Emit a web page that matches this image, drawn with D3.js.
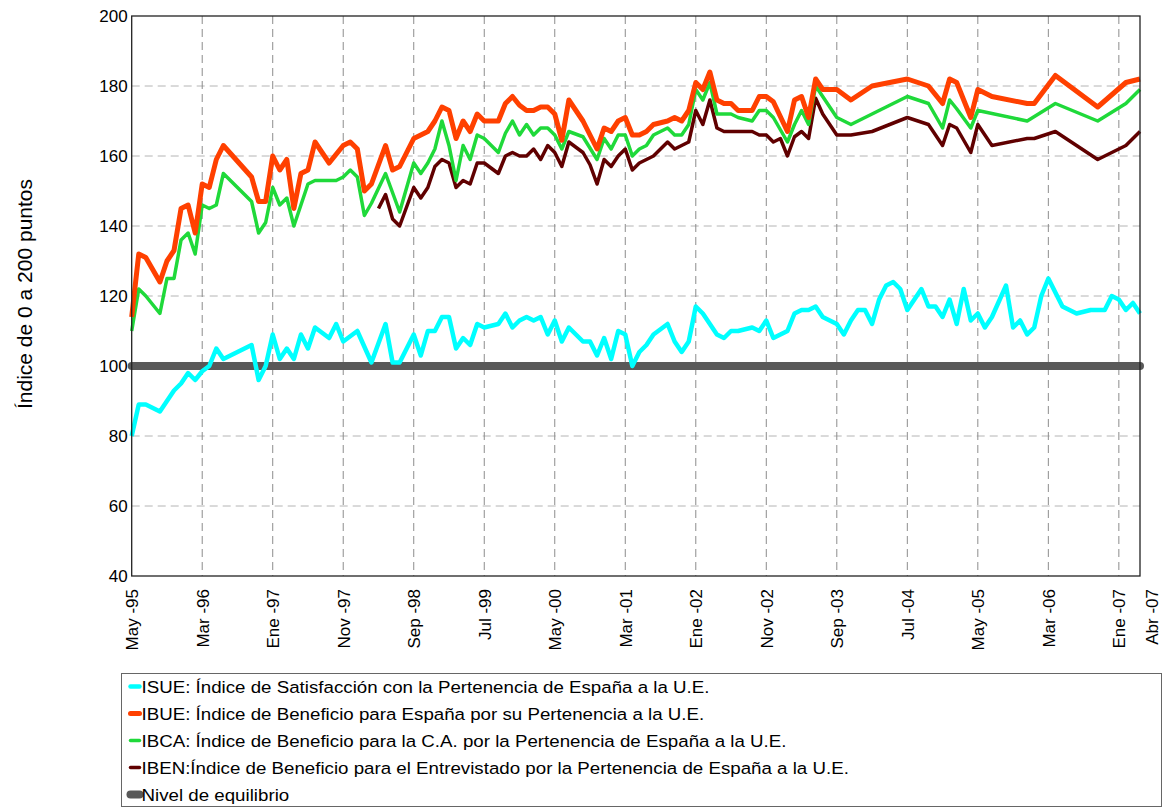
<!DOCTYPE html>
<html>
<head>
<meta charset="utf-8">
<script src="https://cdnjs.cloudflare.com/ajax/libs/d3/7.8.5/d3.min.js"></script>
<style>
  body { margin: 0; background: #fff; }
  text { font-family: Arial, "Liberation Sans", sans-serif; fill: #000; }
</style>
</head>
<body>
<div id="chart-container"></div>
<script>
// survey months (no survey in August), one column per series
const months = [
  "1995-05","1995-06","1995-07","1995-09","1995-10","1995-11","1995-12",
  "1996-01","1996-02","1996-03","1996-04","1996-05","1996-06","1996-10","1996-11","1996-12",
  "1997-01","1997-02","1997-03","1997-04","1997-05","1997-06","1997-07","1997-09","1997-10","1997-11","1997-12",
  "1998-01","1998-02","1998-03","1998-04","1998-05","1998-06","1998-07","1998-09","1998-10","1998-11","1998-12",
  "1999-01","1999-02","1999-03","1999-04","1999-05","1999-06","1999-07","1999-09","1999-10","1999-11","1999-12",
  "2000-01","2000-02","2000-03","2000-04","2000-05","2000-06","2000-07","2000-09","2000-10","2000-11","2000-12",
  "2001-01","2001-02","2001-03","2001-04","2001-05","2001-06","2001-07","2001-09","2001-10","2001-11","2001-12",
  "2002-01","2002-02","2002-03","2002-04","2002-05","2002-06","2002-07","2002-09","2002-10","2002-11","2002-12",
  "2003-01","2003-02","2003-03","2003-04","2003-05","2003-06","2003-07","2003-09","2003-10","2003-11","2003-12",
  "2004-01","2004-02","2004-03","2004-04","2004-05","2004-06","2004-07","2004-09","2004-10","2004-11","2004-12",
  "2005-01","2005-02","2005-03","2005-04","2005-05","2005-06","2005-07","2005-09","2005-10","2005-11","2005-12",
  "2006-01","2006-02","2006-03","2006-04","2006-05","2006-07","2006-09","2006-10","2006-11","2006-12",
  "2007-01","2007-02","2007-03","2007-04"
];

const isue = [
  80,89,89,87,null,93,95,
  98,96,98.5,100,105,102,106,96,100,
  109,102,105,102,109,105,111,108,112,107,null,
  110,null,101,null,112,101,101,109,103,110,110,
  114,114,105,108,106,112,111,112,115,111,113,
  114,113,114,109,113,107,111,107,107,103,108,
  102,110,109,100,104,106,109,112,107,104,107,
  117,115,null,109,108,110,110,111,110,113,108,
  null,110,115,116,116,117,114,112,109,113,116,
  116,112,119,123,124,122,116,122,117,117,114,
  119,112,122,113,115,111,114,123,111,113,109,
  111,120,125,null,117,115,116,null,116,120,
  119,116,118,115
];

const ibue = [
  114,132,131,124,130,133,145,
  146,138,152,151,159,163,154,147,147,
  160,156,159,145,155,156,164,158,null,163,164,
  162,150,152,null,163,156,157,165,166,167,170,
  174,173,165,170,167,172,170,170,175,177,174.5,
  173,173,174,174,172,164.5,176,170,null,162,168,
  167,170,171,166,166,167,169,170,171,170,173,
  181,179,184,176,175,175,173,173,177,177,175.5,
  null,167,176,177,171,182,179,179,null,176,null,
  null,180,null,null,null,null,182,null,180,null,175,
  182,181,null,171,179,null,177,null,null,null,175,
  175,null,null,183,null,null,null,174,null,null,
  null,181,null,182
];

const ibca = [
  110,122,120,115,125,125,136,
  138,132,146,145,146,155,147,138,141,
  151,146,148,140,146,152,153,null,153,154,156,
  154,143,146.5,null,155,null,144,158,155,158,162,
  170,163,153,163,159,166,165,161,166.5,170,166,
  169,166,168,168,166,162,167,165.5,null,159,165,
  162,166,166,160,162,163,166,168,166,166,169,
  179,176,181,172,172,172,171,170,173,173,171,
  null,164,169,173,169,180,177,171,null,169,null,
  null,172,null,null,null,null,177,null,175,null,168,
  176,173.5,null,168,173,null,null,null,null,null,170,
  null,null,null,175,null,null,null,170,null,null,
  null,175,null,179
];

const iben = [
  null,null,null,null,null,null,null,
  null,null,null,null,null,null,null,null,null,
  null,null,null,null,null,null,null,null,null,null,null,
  null,null,null,145,149,142,140,151,148,151,157,
  159,158,151,153,152,158,158,155,160,161,160,
  160,162,159,163,161,157,164,161,157.5,152,159,
  157,160,162,156,158,null,160,164,162,null,164,
  173,169,176,168,167,null,null,167,166,166,164,
  165,160,165.5,167,165,176.5,172,166,null,166,null,
  null,167,null,null,null,null,171,null,169,null,163,
  169,168,null,161,169,null,163,null,null,null,165,
  165,null,null,167,null,null,null,159,null,null,
  null,163,null,167
];

const equilibrio = 100;

const tickMonths = [
  "1995-05","1996-03","1997-01","1997-11","1998-09","1999-07","2000-05","2001-03",
  "2002-01","2002-11","2003-09","2004-07","2005-05","2006-03","2007-01","2007-04"
];
const tickLabels = [
  "May -95","Mar -96","Ene -97","Nov -97","Sep -98","Jul -99","May -00","Mar -01",
  "Ene -02","Nov -02","Sep -03","Jul -04","May -05","Mar -06","Ene -07","Abr -07"
];
const yTicks = [40, 60, 80, 100, 120, 140, 160, 180, 200];

const legendLabels = [
  "ISUE: Índice de Satisfacción con la Pertenencia de España a la U.E.",
  "IBUE: Índice de Beneficio para España por su Pertenencia a la U.E.",
  "IBCA: Índice de Beneficio para la C.A. por la Pertenencia de España a la U.E.",
  "IBEN:Índice de Beneficio para el Entrevistado por la Pertenencia de España a la U.E.",
  "Nivel de equilibrio"
];

const monthIndex = (s) => {
  const [yy, mm] = s.split("-").map(Number);
  return yy * 12 + (mm - 1);
};

const width = 1163;
const height = 808;
const plot = { left: 131.7, right: 1140, top: 16, bottom: 576 };

const x = d3.scaleLinear(
  [monthIndex(months[0]), monthIndex(months[months.length - 1])],
  [plot.left, plot.right]
);
const y = d3.scaleLinear([40, 200], [plot.bottom, plot.top]);

const svg = d3
  .select("#chart-container")
  .append("svg")
  .attr("width", width)
  .attr("height", height);

// grid
svg
  .append("g")
  .selectAll("line")
  .data(yTicks.slice(1, -1))
  .join("line")
  .attr("x1", plot.left)
  .attr("x2", plot.right)
  .attr("y1", (d) => y(d))
  .attr("y2", (d) => y(d))
  .attr("stroke", "#b4b4b4")
  .attr("stroke-width", 1)
  .attr("stroke-dasharray", "8,5");

svg
  .append("g")
  .selectAll("line")
  .data(tickMonths.slice(1, -1))
  .join("line")
  .attr("x1", (d) => x(monthIndex(d)))
  .attr("x2", (d) => x(monthIndex(d)))
  .attr("y1", plot.top)
  .attr("y2", plot.bottom)
  .attr("stroke", "#8c8c8c")
  .attr("stroke-width", 1)
  .attr("stroke-dasharray", "8,5");

// axes
svg
  .append("g")
  .attr("transform", `translate(${plot.left},0)`)
  .call(d3.axisLeft(y).tickValues(yTicks).tickSize(0).tickPadding(4))
  .call((g) => g.select(".domain").remove())
  .call((g) => g.selectAll("text").style("font-size", "17px").attr("fill", "#000"));

svg
  .append("g")
  .attr("transform", `translate(0,${plot.bottom})`)
  .call(
    d3
      .axisBottom(x)
      .tickValues(tickMonths.map(monthIndex))
      .tickFormat((d, i) => tickLabels[i])
      .tickSize(0)
  )
  .call((g) => g.select(".domain").remove())
  .call((g) =>
    g
      .selectAll("text")
      .style("font-size", "17px")
      .attr("fill", "#000")
      .attr("text-anchor", "end")
      .attr("transform", "rotate(-90)")
      .attr("x", -13)
      .attr("y", 0)
      .attr("dy", (d, i) => (i === tickLabels.length - 1 ? "1em" : "0.35em"))
  );

svg
  .append("text")
  .attr("transform", `translate(32,${(plot.top + plot.bottom) / 2 - 2}) rotate(-90)`)
  .attr("text-anchor", "middle")
  .style("font-size", "21px")
  .text("Índice de 0 a 200 puntos");

// lines
const line = d3
  .line()
  .x((d) => x(d.m))
  .y((d) => y(d.v));

const pointsOf = (values) =>
  months
    .map((m, i) => ({ m: monthIndex(m), v: values[i] }))
    .filter((d) => d.v !== null);

svg
  .append("path")
  .attr("fill", "none")
  .attr("stroke", "#595959")
  .attr("stroke-width", 8)
  .attr("stroke-linecap", "round")
  .attr("d", line(months.map((m) => ({ m: monthIndex(m), v: equilibrio }))));

const series = [
  { values: iben, color: "#600000", width: 3.5 },
  { values: ibca, color: "#1fd93a", width: 3.5 },
  { values: ibue, color: "#ff4000", width: 5 },
  { values: isue, color: "#00ffff", width: 4.5 }
];

series.forEach((s) => {
  svg
    .append("path")
    .attr("fill", "none")
    .attr("stroke", s.color)
    .attr("stroke-width", s.width)
    .attr("stroke-linejoin", "round")
    .attr("d", line(pointsOf(s.values)));
});

// plot frame
svg
  .append("rect")
  .attr("x", plot.left)
  .attr("y", plot.top)
  .attr("width", plot.right - plot.left)
  .attr("height", plot.bottom - plot.top)
  .attr("fill", "none")
  .attr("stroke", "#222")
  .attr("stroke-width", 1.3);

// legend
const legendItems = [
  { color: "#00ffff", width: 4.5 },
  { color: "#ff4000", width: 5 },
  { color: "#1fd93a", width: 3.5 },
  { color: "#600000", width: 3.5 },
  { color: "#595959", width: 8 }
];

const legend = svg.append("g").attr("transform", "translate(121.5,673.5)");

legend
  .append("rect")
  .attr("width", 1040)
  .attr("height", 133)
  .attr("fill", "#fff")
  .attr("stroke", "#666")
  .attr("stroke-width", 1);

legendItems.forEach((item, i) => {
  const row = legend.append("g").attr("transform", `translate(0,${13 + i * 27})`);
  row
    .append("line")
    .attr("x1", 9)
    .attr("x2", 18)
    .attr("stroke", item.color)
    .attr("stroke-width", item.width)
    .attr("stroke-linecap", "round");
  row
    .append("text")
    .attr("transform", "translate(20,6) scale(1.17,1.04)")
    .style("font-size", "16px")
    .text(legendLabels[i]);
});
</script>
</body>
</html>
